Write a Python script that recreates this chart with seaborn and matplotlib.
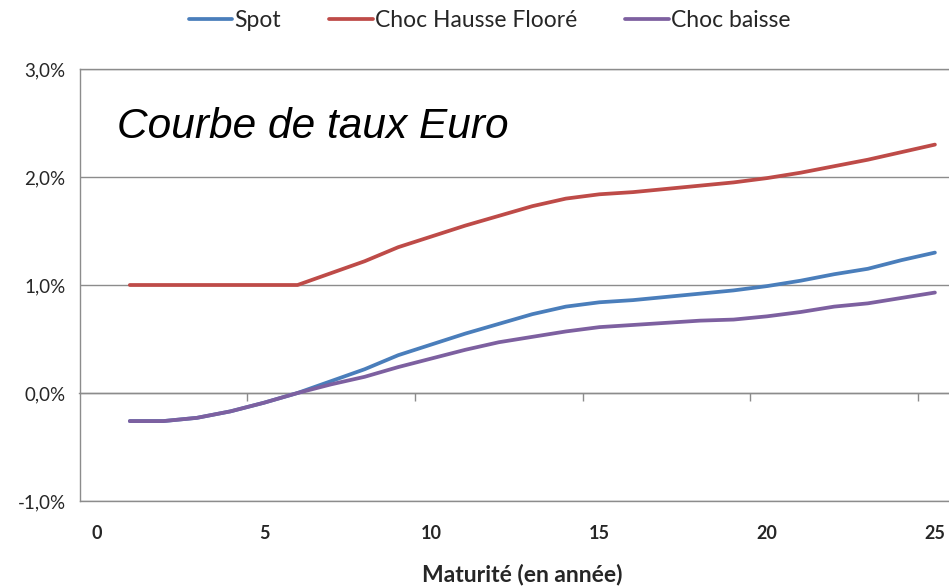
import matplotlib
matplotlib.use('Agg')
import matplotlib.pyplot as plt
import seaborn as sns
import pandas as pd
from matplotlib.ticker import FuncFormatter

# values, in %
maturites = list(range(1, 26))
spot = [-0.26, -0.26, -0.23, -0.17, -0.09, 0.00, 0.11, 0.22, 0.35, 0.45, 0.55, 0.64, 0.73,
        0.80, 0.84, 0.86, 0.89, 0.92, 0.95, 0.99, 1.04, 1.10, 1.15, 1.23, 1.30]
choc_hausse = [1.00, 1.00, 1.00, 1.00, 1.00, 1.00, 1.11, 1.22, 1.35, 1.45, 1.55, 1.64, 1.73,
               1.80, 1.84, 1.86, 1.89, 1.92, 1.95, 1.99, 2.04, 2.10, 2.16, 2.23, 2.30]
choc_baisse = [-0.26, -0.26, -0.23, -0.17, -0.09, 0.00, 0.08, 0.15, 0.24, 0.32, 0.40, 0.47, 0.52,
               0.57, 0.61, 0.63, 0.65, 0.67, 0.68, 0.71, 0.75, 0.80, 0.83, 0.88, 0.93]
series_names = ['Spot', 'Choc Hausse Flooré', 'Choc baisse']
couleurs = ['#4A7EBB', '#BE4B48', '#7D60A0']
x_ticks = [0, 5, 10, 15, 20, 25]
y_ticks = [-1, 0, 1, 2, 3]

df = pd.DataFrame({
    'Maturite': maturites * 3,
    'Taux': spot + choc_hausse + choc_baisse,
    'Serie': [n for n in series_names for _ in maturites],
})

sns.set_style('white')
plt.rcParams['font.family'] = ['Lato', 'DejaVu Sans']
gris = '#8C8C8C'
texte = '#262626'

fig = plt.figure(figsize=(9.49, 5.87), dpi=100)
ax = fig.add_axes([79.5 / 949, 86 / 587, (949 - 79.5) / 949, 432 / 587])

sns.lineplot(data=df, x='Maturite', y='Taux', hue='Serie', hue_order=series_names,
             palette=dict(zip(series_names, couleurs)), linewidth=2.7, ax=ax)

handles, labels = ax.get_legend_handles_labels()
ax.get_legend().remove()
fig.legend(handles, labels, loc='upper center', bbox_to_anchor=(0.516, 1.018), ncol=3,
           frameon=False, fontsize=16.5, handlelength=1.9, handletextpad=0.1,
           columnspacing=2.1, labelcolor=texte)

ax.set_xlim(-0.5, 25.42)
ax.set_ylim(-1, 3)
ax.set_xticks(x_ticks)
ax.set_yticks(y_ticks)
ax.yaxis.set_major_formatter(FuncFormatter(lambda v, _: f"{v:.1f}%".replace('.', ',')))
ax.tick_params(axis='x', length=0, pad=17, labelsize=13, labelcolor=texte)
for lab in ax.get_xticklabels():
    lab.set_fontweight('bold')
ax.tick_params(axis='y', length=6, width=1, color=gris, direction='out', pad=4,
               labelsize=13.5, labelcolor=texte)

ax.yaxis.grid(True, color=gris, linewidth=1)
ax.xaxis.grid(False)
for side in ['left', 'top', 'bottom']:
    ax.spines[side].set_color(gris)
    ax.spines[side].set_linewidth(1)
ax.spines['right'].set_visible(False)

# category axis crossing at 0 with tick marks between categories
axe0 = ax.secondary_xaxis(0, transform=ax.transData)
axe0.set_xticks([t - 0.5 for t in x_ticks[1:]])
axe0.tick_params(length=6, width=1, color=gris, direction='out', labelbottom=False)
axe0.spines['bottom'].set_color(gris)
axe0.spines['bottom'].set_linewidth(1)

ax.text(0.043, 0.84, 'Courbe de taux Euro', transform=ax.transAxes, fontsize=30.5,
        fontstyle='italic', family='Liberation Sans', va='baseline', color='black')

ax.set_xlabel('Maturité (en année)', fontsize=16.5, fontweight='bold', color=texte)
ax.xaxis.set_label_coords(0.509, -0.169)
ax.xaxis.label.set_verticalalignment('center')
ax.set_ylabel('')

fig.savefig('out.png', dpi=100)
